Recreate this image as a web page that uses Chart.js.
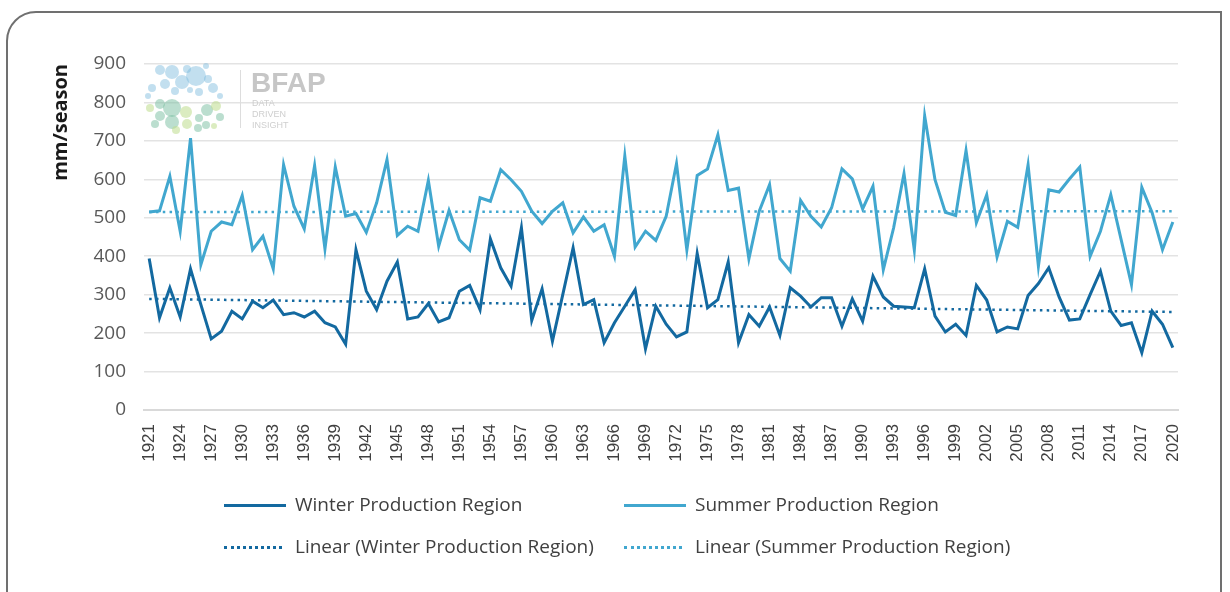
<!DOCTYPE html>
<html>
<head>
<meta charset="utf-8">
<script src="https://cdn.jsdelivr.net/npm/chart.js@4.4.1/dist/chart.umd.min.js"></script>
<style>
  html,body{margin:0;padding:0;background:#fff;}
  body{width:1230px;height:592px;position:relative;overflow:hidden;font-family:"Open Sans",sans-serif;}
  #frame{position:absolute;left:6px;top:11px;width:1216px;height:700px;border:2px solid #707070;border-top-left-radius:30px;box-sizing:border-box;}
  #wrap{position:absolute;left:0;top:0;width:1230px;height:592px;}
  .leg{position:absolute;font-family:"Open Sans",sans-serif;font-size:19px;color:#404040;white-space:nowrap;line-height:22px;}
  .sw{position:absolute;height:0;}
</style>
</head>
<body>
<div id="frame"></div>
<div id="wrap"><canvas id="c" width="1230" height="592"></canvas></div>
<div id="legend"></div>
<script>
const years = [];
for (let y = 1921; y <= 2020; y++) years.push(String(y));

const winterValues = [
 394,240,318,242,367,274,185,205,257,237,
 283,266,286,248,253,242,257,227,216,171,
 417,309,261,335,385,237,242,277,229,240,
 309,324,261,445,370,322,474,233,315,179,
 300,422,274,287,175,227,270,313,159,270,
 223,190,203,407,266,287,385,175,248,218,
 268,194,318,296,268,292,292,218,289,231,
 348,294,270,268,266,367,244,203,223,194,
 324,286,203,216,211,298,329,370,294,234,
 237,300,361,257,220,227,149,257,223,162
];
const summerValues = [
 515,518,608,465,707,378,465,489,482,558,
 417,452,367,638,530,471,636,419,632,504,
 511,462,539,651,454,478,465,597,426,519,
 443,416,552,543,625,599,569,517,485,517,
 539,461,502,465,482,400,661,424,465,441,
 504,641,416,610,627,716,571,577,393,517,
 586,394,361,545,504,476,526,627,601,523,
 582,365,474,615,416,765,599,514,506,675,
 487,560,398,491,475,638,374,573,567,601,
 632,400,465,560,443,326,579,513,417,489
];
// Linear trend end points (1921, 2020)
const winterTrendEnds = [289, 255];
const summerTrendEnds = [515, 517];
const yTicks = [0,100,200,300,400,500,600,700,800,900];

const seriesNames = ["Winter Production Region","Summer Production Region",
  "Linear (Winter Production Region)","Linear (Summer Production Region)"];
const winterColor = "#1369a0";
const summerColor = "#41a7cf";

function trendSeries(ends){
  const arr = years.map(()=>null);
  arr[0] = ends[0]; arr[arr.length-1] = ends[1];
  return arr;
}

const logoPlugin = {
  id:'logo',
  beforeDatasetsDraw(chart){
    const ctx = chart.ctx;
    ctx.save();
    const blues = [[160,70,5],[172,72,7],[187,69,4],[196,76,10],[182,82,7],[165,84,5],[152,88,4],[208,79,4],[213,88,5],[199,92,4],[175,91,4],[190,90,3],[148,96,3],[220,96,3],[206,66,3]];
    const greens = [[150,108,4],[160,104,5],[172,108,9],[186,112,6],[160,116,5],[172,122,7],[187,124,5],[199,118,4],[207,110,6],[216,106,5],[220,117,4],[198,128,4],[176,130,4],[206,125,4],[155,124,4],[214,126,3]];
    blues.forEach(c=>{ctx.beginPath();ctx.fillStyle='rgba(120,185,220,0.45)';ctx.arc(c[0],c[1],c[2],0,Math.PI*2);ctx.fill();});
    greens.forEach((c,i)=>{ctx.beginPath();ctx.fillStyle = i%3===0 ? 'rgba(190,220,140,0.55)' : 'rgba(120,190,160,0.5)';ctx.arc(c[0],c[1],c[2],0,Math.PI*2);ctx.fill();});
    ctx.strokeStyle='#dddddd';ctx.lineWidth=1;
    ctx.beginPath();ctx.moveTo(240.5,70);ctx.lineTo(240.5,128);ctx.stroke();
    ctx.fillStyle='#c6c6c6';
    ctx.font='bold 28px "Liberation Sans", Arial, sans-serif';
    ctx.textBaseline='alphabetic';ctx.textAlign='left';
    ctx.fillText('BFAP',251,92);
    ctx.fillStyle='#cfcfcf';
    ctx.font='9px "Liberation Sans", Arial, sans-serif';
    ctx.fillText('DATA',252,106);
    ctx.fillText('DRIVEN',252,117);
    ctx.fillText('INSIGHT',252,128);
    ctx.restore();
  }
};

new Chart(document.getElementById('c'), {
  type:'line',
  data:{
    labels: years,
    datasets:[
      {label:seriesNames[0], data:winterValues, borderColor:winterColor, backgroundColor:winterColor, borderWidth:3, pointRadius:0, tension:0, order:2},
      {label:seriesNames[1], data:summerValues, borderColor:summerColor, backgroundColor:summerColor, borderWidth:3, pointRadius:0, tension:0, order:3},
      {label:seriesNames[2], data:trendSeries(winterTrendEnds), borderColor:winterColor, borderWidth:2.5, borderDash:[2.5,4.3], borderCapStyle:'butt', pointRadius:0, spanGaps:true, order:1},
      {label:seriesNames[3], data:trendSeries(summerTrendEnds), borderColor:summerColor, borderWidth:2.5, borderDash:[2.5,4.3], borderCapStyle:'butt', pointRadius:0, spanGaps:true, order:1}
    ]
  },
  options:{
    responsive:false,
    animation:false,
    events:[],
    layout:{padding:{left:49,right:52,top:64,bottom:0}},
    plugins:{legend:{display:false},tooltip:{enabled:false}},
    scales:{
      x:{
        offset:true,
        grid:{display:false, drawTicks:false},
        border:{color:'#d9d9d9', width:2},
        ticks:{
          autoSkip:false, minRotation:90, maxRotation:90, padding:14,
          color:'#404040', font:{family:'"Liberation Sans", Arial, sans-serif', size:17},
          callback:function(v,i){ return i%3===0 ? years[i] : ''; }
        },
        afterFit(scale){ scale.height = 182; }
      },
      y:{
        min:0, max:900,
        afterBuildTicks(scale){ scale.ticks = yTicks.map(v=>({value:v})); },
        grid:{color:'#e3e3e3', lineWidth:1.5, drawTicks:false},
        border:{display:false},
        ticks:{padding:18, color:'#595959', font:{family:'"Open Sans", sans-serif', size:19}},
        title:{display:true, text:'mm/season', align:'end', color:'#1a1a1a', padding:{top:0,bottom:0}, font:{family:'"Open Sans", sans-serif', size:20, weight:'bold'}},
        afterFit(scale){ scale.width = 95; }
      }
    }
  },
  plugins:[logoPlugin]
});

// Legend (two columns, two rows)
const legendItems = [
  {name:seriesNames[0], color:winterColor, dotted:false, x:224, y:505},
  {name:seriesNames[1], color:summerColor, dotted:false, x:624, y:505},
  {name:seriesNames[2], color:winterColor, dotted:true, x:224, y:547},
  {name:seriesNames[3], color:summerColor, dotted:true, x:624, y:547}
];
const lg = document.getElementById('legend');
legendItems.forEach(it=>{
  const sw = document.createElement('div');
  sw.className='sw';
  sw.style.left = it.x+'px';
  sw.style.top = (it.y-1.5)+'px';
  sw.style.width = (it.dotted?58:62)+'px';
  sw.style.borderTop = it.dotted ? ('3px dotted '+it.color) : ('3px solid '+it.color);
  lg.appendChild(sw);
  const t = document.createElement('div');
  t.className='leg';
  t.textContent = it.name;
  t.style.left = (it.x+71)+'px';
  t.style.top = (it.y-12)+'px';
  lg.appendChild(t);
});
</script>
</body>
</html>
